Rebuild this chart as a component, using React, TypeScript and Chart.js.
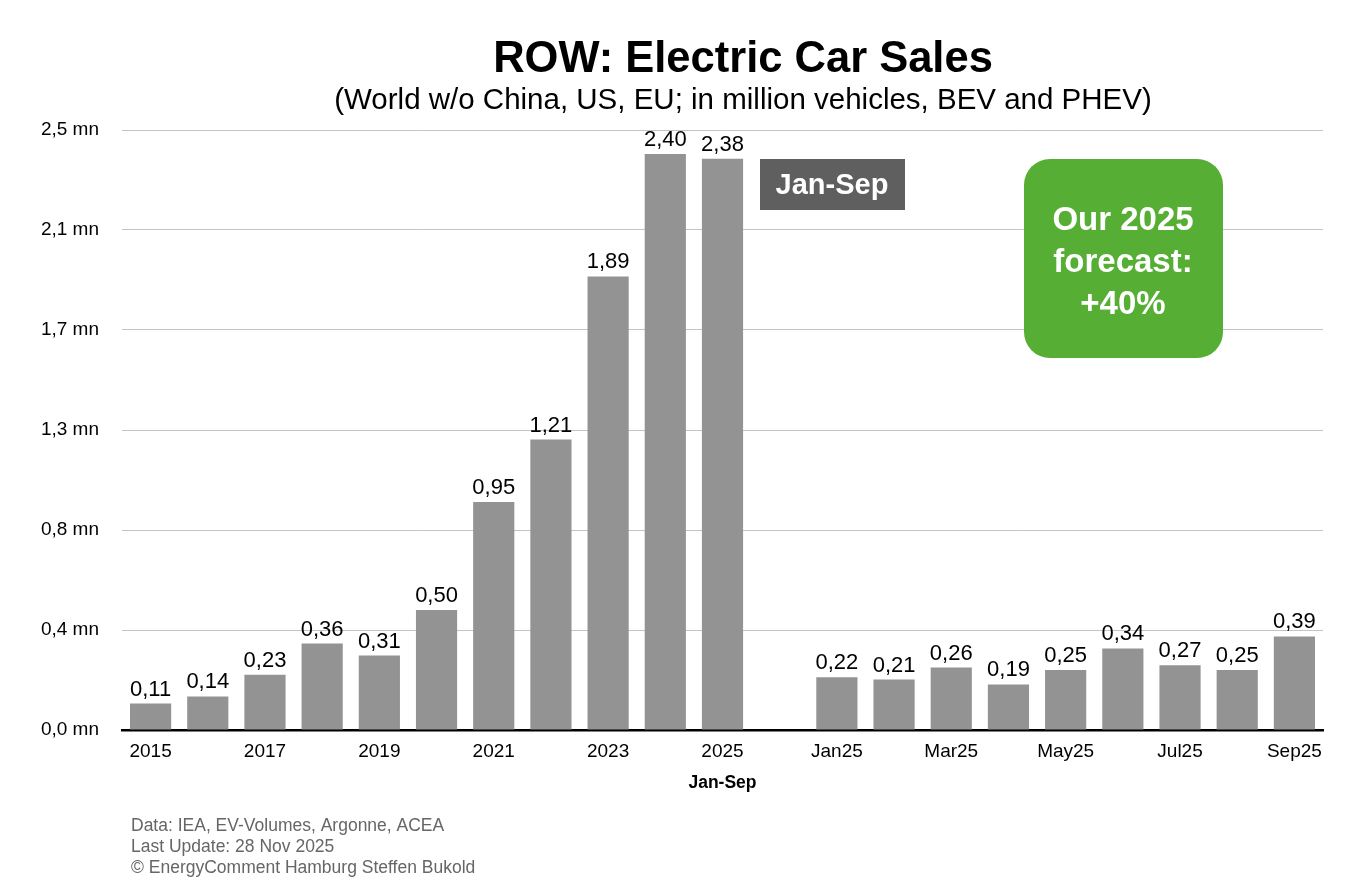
import React, { useEffect, useRef } from "react";
import { Chart, registerables } from "chart.js";

Chart.register(...registerables);

const categories = [
  "2015", "2016", "2017", "2018", "2019", "2020", "2021", "2022", "2023", "2024", "2025",
  "",
  "Jan25", "Feb25", "Mar25", "Apr25", "May25", "Jun25", "Jul25", "Aug25", "Sep25",
];
const sales = [
  0.11, 0.14, 0.23, 0.36, 0.31, 0.5, 0.95, 1.21, 1.89, 2.4, 2.38,
  null,
  0.22, 0.21, 0.26, 0.19, 0.25, 0.34, 0.27, 0.25, 0.39,
];
const yTickLabels = ["0,0 mn", "0,4 mn", "0,8 mn", "1,3 mn", "1,7 mn", "2,1 mn", "2,5 mn"];
const titleText = "ROW: Electric Car Sales";
const subtitleText = "(World w/o China, US, EU; in million vehicles, BEV and PHEV)";
const xAxisTitle = "Jan-Sep";
const boxLabel = "Jan-Sep";
const forecastLines = ["Our 2025", "forecast:", "+40%"];
const footnotes = [
  "Data: IEA, EV-Volumes, Argonne, ACEA",
  "Last Update: 28 Nov 2025",
  "© EnergyComment Hamburg Steffen Bukold",
];

const FONT = "'Liberation Sans', Arial, Helvetica, sans-serif";

const overlayPlugin = {
  id: "overlay",
  afterDatasetsDraw(chart: any) {
    const ctx = chart.ctx;
    const meta = chart.getDatasetMeta(0);
    ctx.save();
    ctx.font = `22px ${FONT}`;
    ctx.fillStyle = "#000";
    ctx.textAlign = "center";
    ctx.textBaseline = "alphabetic";
    meta.data.forEach((bar: any, i: number) => {
      const v = sales[i];
      if (v == null) return;
      ctx.fillText(v.toFixed(2).replace(".", ","), bar.x, bar.y - 8);
    });
    ctx.restore();
  },
  afterDraw(chart: any) {
    const ctx = chart.ctx;
    ctx.save();
    ctx.fillStyle = "#000";
    ctx.textAlign = "center";
    ctx.textBaseline = "middle";
    ctx.font = `bold 43.5px ${FONT}`;
    ctx.fillText(titleText, 743, 60);
    ctx.font = `29.5px ${FONT}`;
    ctx.fillText(subtitleText, 743, 101);

    // Jan-Sep box
    ctx.fillStyle = "#5f5f5f";
    ctx.fillRect(760, 159, 145, 51);
    ctx.fillStyle = "#fff";
    ctx.font = `bold 29px ${FONT}`;
    ctx.fillText(boxLabel, 832, 186);

    // forecast box
    ctx.fillStyle = "#56ae34";
    ctx.beginPath();
    (ctx as any).roundRect(1024, 159, 199, 199, 26);
    ctx.fill();
    ctx.fillStyle = "#fff";
    ctx.font = `bold 33px ${FONT}`;
    forecastLines.forEach((t, i) => ctx.fillText(t, 1123, 221 + i * 42));

    // footnotes
    ctx.fillStyle = "#666";
    ctx.font = `17.5px ${FONT}`;
    ctx.textAlign = "left";
    ctx.textBaseline = "alphabetic";
    footnotes.forEach((t, i) => ctx.fillText(t, 131, 831 + i * 21));
    ctx.restore();
  },
};

export default function App() {
  const ref = useRef<HTMLCanvasElement>(null);
  useEffect(() => {
    if (!ref.current) return;
    const chart = new Chart(ref.current, {
      type: "bar",
      data: {
        labels: categories,
        datasets: [
          {
            data: sales as any,
            backgroundColor: "#939393",
            barPercentage: 0.72,
            categoryPercentage: 1,
          },
        ],
      },
      options: {
        animation: false,
        responsive: true,
        maintainAspectRatio: false,
        devicePixelRatio: 1,
        layout: { padding: { top: 130, right: 39, bottom: 92, left: 0 } },
        plugins: { legend: { display: false }, tooltip: { enabled: false } },
        scales: {
          x: {
            grid: { display: false, drawTicks: false },
            border: { display: true, color: "#000", width: 2.5 },
            ticks: {
              autoSkip: false,
              maxRotation: 0,
              padding: 10,
              color: "#000",
              font: { family: FONT, size: 19 },
              callback: (_v: any, i: number) => (i % 2 === 0 ? categories[i] : ""),
            },
            title: {
              display: true,
              text: xAxisTitle,
              color: "#000",
              font: { family: FONT, size: 17.5, weight: "bold" },
              padding: { top: 0, bottom: 6.5 },
            },
            afterFit: (s: any) => {
              s.height = 70;
            },
          },
          y: {
            min: 0,
            max: 2.5,
            ticks: {
              count: 7,
              padding: 23,
              color: "#000",
              font: { family: FONT, size: 19 },
              callback: (_v: any, i: number) => yTickLabels[i],
            },
            grid: { color: "#c4c4c4", lineWidth: 1, drawTicks: false },
            border: { display: false },
            afterFit: (s: any) => {
              s.width = 122;
            },
          },
        },
      } as any,
      plugins: [overlayPlugin],
    });
    return () => chart.destroy();
  }, []);
  return (
    <div style={{ position: "absolute", left: 0, top: 0, width: 1362, height: 892, background: "#fff" }}>
      <canvas ref={ref} />
    </div>
  );
}
